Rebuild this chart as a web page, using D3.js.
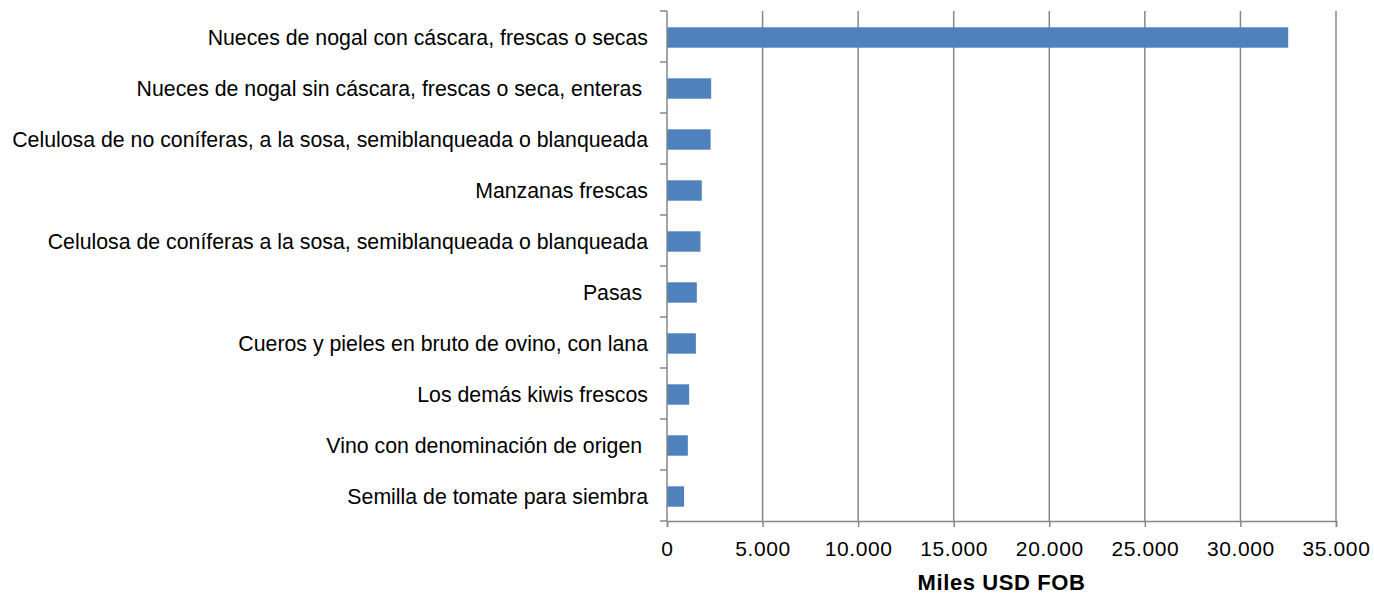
<!DOCTYPE html>
<html>
<head>
<meta charset="utf-8">
<script src="https://cdn.jsdelivr.net/npm/d3@7"></script>
<style>
    body { margin: 0; background: #fff; }
    text { font-family: Arial, "Liberation Sans", sans-serif; }
</style>
</head>
<body>
<div id="chart"></div>
<script>
const categories = [
    "Nueces de nogal con cáscara, frescas o secas",
    "Nueces de nogal sin cáscara, frescas o seca, enteras ",
    "Celulosa de no coníferas, a la sosa, semiblanqueada o blanqueada",
    "Manzanas frescas",
    "Celulosa de coníferas a la sosa, semiblanqueada o blanqueada",
    "Pasas ",
    "Cueros y pieles en bruto de ovino, con lana",
    "Los demás kiwis frescos",
    "Vino con denominación de origen ",
    "Semilla de tomate para siembra"
];
const values = [32500, 2310, 2280, 1820, 1750, 1560, 1510, 1160, 1090, 895];
const xTicks = [0, 5000, 10000, 15000, 20000, 25000, 30000, 35000];
const xTitle = "Miles USD FOB";

const width = 1374, height = 594;
const margin = { top: 11, right: 38, bottom: 73, left: 667 };

const svg = d3.select("#chart").append("svg")
    .attr("width", width)
    .attr("height", height);

const x = d3.scaleLinear()
    .domain([0, 35000])
    .range([margin.left, width - margin.right]);

const y = d3.scaleBand()
    .domain(categories)
    .range([margin.top, height - margin.bottom])
    .paddingInner(0.6)
    .paddingOuter(0.3);

const gridColor = "#878787";
const fmt = d => d3.format(",")(d).replace(/,/g, ".");

// vertical gridlines
svg.append("g")
    .selectAll("line")
    .data(xTicks.slice(1))
    .join("line")
    .attr("x1", d => x(d)).attr("x2", d => x(d))
    .attr("y1", margin.top).attr("y2", height - margin.bottom)
    .attr("stroke", gridColor)
    .attr("stroke-width", 1.5);

// bars
svg.append("g")
    .selectAll("rect")
    .data(values)
    .join("rect")
    .attr("x", x(0))
    .attr("y", (d, i) => y(categories[i]) + 1)
    .attr("width", d => x(d) - x(0))
    .attr("height", y.bandwidth())
    .attr("fill", "#4f81bd");

// x axis
const xAxis = svg.append("g")
    .attr("transform", `translate(0,${height - margin.bottom})`)
    .call(d3.axisBottom(x).tickValues(xTicks).tickFormat(fmt).tickSize(6).tickPadding(14));
xAxis.select(".domain").attr("stroke", gridColor).attr("stroke-width", 1.5);
xAxis.selectAll(".tick line").attr("stroke", gridColor).attr("stroke-width", 1.5);
xAxis.selectAll(".tick text")
    .attr("font-size", 21)
    .attr("letter-spacing", "0.6px")
    .attr("fill", "#000");

// y axis: line with ticks between categories
const yBounds = d3.range(categories.length + 1).map(i =>
    margin.top + i * (height - margin.bottom - margin.top) / categories.length);
svg.append("line")
    .attr("x1", x(0)).attr("x2", x(0))
    .attr("y1", margin.top).attr("y2", height - margin.bottom)
    .attr("stroke", gridColor).attr("stroke-width", 1.5);
svg.append("g")
    .selectAll("line")
    .data(yBounds)
    .join("line")
    .attr("x1", x(0) - 7).attr("x2", x(0))
    .attr("y1", d => d).attr("y2", d => d)
    .attr("stroke", gridColor).attr("stroke-width", 1.5);

// category labels
svg.append("g")
    .selectAll("text")
    .data(categories)
    .join("text")
    .attr("x", 648)
    .attr("y", d => y(d) + y.bandwidth() / 2 + 1)
    .attr("dy", "0.35em")
    .attr("text-anchor", "end")
    .attr("font-size", 21.3)
    .style("white-space", "pre")
    .text(d => d);

// axis title
svg.append("text")
    .attr("x", (x(0) + x(35000)) / 2)
    .attr("y", 590)
    .attr("text-anchor", "middle")
    .attr("font-size", 22)
    .attr("letter-spacing", "0.6px")
    .attr("font-weight", "bold")
    .text(xTitle);
</script>
</body>
</html>
